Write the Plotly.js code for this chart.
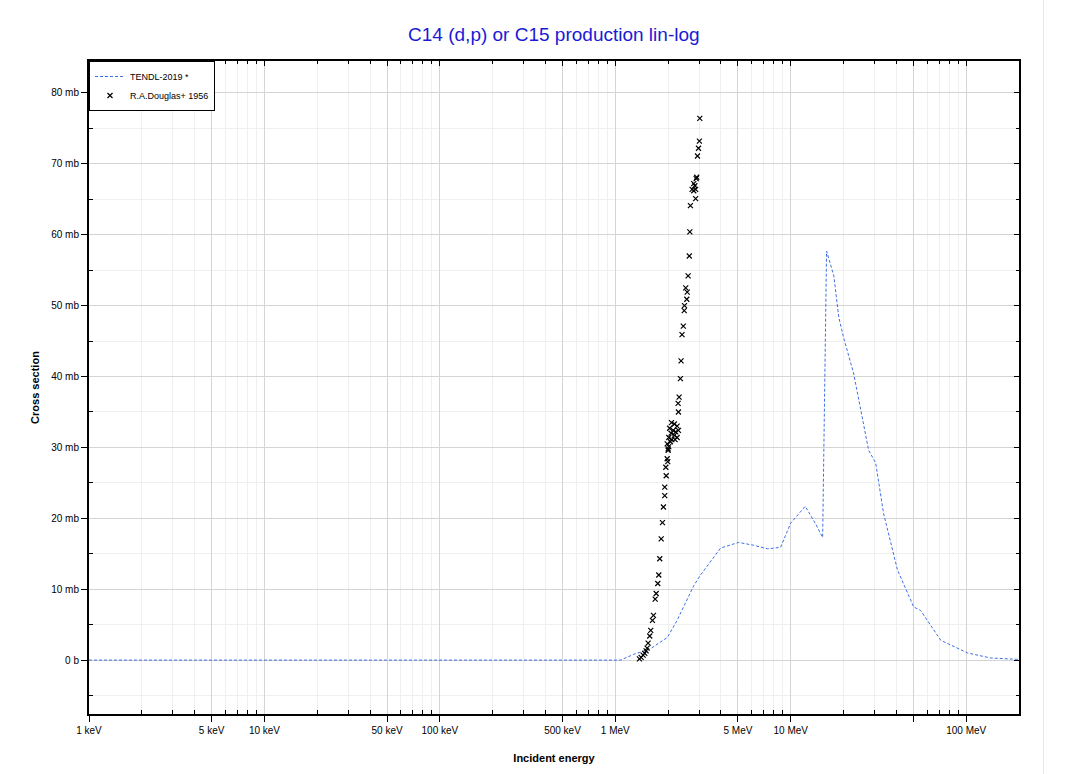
<!DOCTYPE html>
<html>
<head>
<meta charset="utf-8">
<script src="https://cdn.plot.ly/plotly-3.0.1.min.js"></script>
<style>
  html, body { margin: 0; padding: 0; background: #ffffff; }
  #chart { width: 1043px; height: 774px; border-right: 1px solid #e8e8e8; }
</style>
</head>
<body>
<div id="chart"></div>
<script>
// TENDL-2019 evaluated curve: incident energy (MeV), cross section (mb)
const tendlEnergyMeV = [0.001, 0.01, 0.1, 0.5, 1.0, 1.07, 1.27, 1.585, 1.98, 2.25, 2.8, 3.06, 3.98, 5.04, 6.14, 7.38, 8.75, 9.98, 12.1, 13.8, 15.2, 16.0, 17.6, 18.8, 20.0, 22.8, 27.8, 30.5, 33.8, 40.6, 50.2, 55.0, 71.6, 102, 138, 200];
const tendlXsMb      = [0, 0, 0, 0, 0, 0, 0.8, 1.6, 3.2, 5.6, 10.5, 12.0, 15.8, 16.6, 16.2, 15.7, 15.9, 19.3, 21.7, 19.3, 17.3, 57.7, 54.2, 48.3, 45.5, 40.5, 29.6, 27.8, 20.7, 12.7, 7.5, 7.0, 2.8, 1.0, 0.3, 0.1];

// R.A.Douglas+ 1956 measured points: incident energy (MeV), cross section (mb)
const douglasEnergyMeV = [1.372, 1.403, 1.44, 1.471, 1.498, 1.518, 1.538, 1.571, 1.592, 1.628, 1.65, 1.687, 1.71, 1.746, 1.769, 1.792, 1.826, 1.857, 1.88, 1.913, 1.913, 1.95, 1.94, 1.99, 1.975, 2.001, 2.017,
  1.975, 2.0, 2.06, 2.10, 2.19, 2.017, 2.25, 2.17, 2.08, 2.29, 2.21, 2.14, 2.04, 2.25, 2.17, 2.09,
  2.28, 2.29, 2.31, 2.35, 2.37, 2.40, 2.44, 2.47, 2.48, 2.555, 2.57, 2.52, 2.60, 2.64, 2.66, 2.68, 2.87, 2.80, 2.87, 2.74, 2.84, 2.80, 2.89, 2.91, 2.94, 2.98, 3.015, 3.03];
const douglasXsMb = [0.18, 0.38, 0.7, 0.94, 1.3, 1.7, 2.4, 3.4, 4.2, 5.6, 6.3, 8.6, 9.4, 10.8, 12.0, 14.3, 17.1, 19.4, 21.6, 23.2, 24.4, 26.0, 27.2, 28.0, 28.4, 29.6, 30.1,
  30.5, 29.8, 30.8, 31.1, 31.1, 31.4, 31.4, 31.7, 32.0, 32.4, 32.2, 32.4, 32.7, 33.0, 33.3, 33.5,
  36.2, 35.0, 37.1, 39.7, 42.2, 45.9, 47.1, 49.3, 50.0, 50.9, 51.9, 52.5, 54.2, 57.0, 60.4, 64.1, 65.1, 66.2, 66.4, 66.4, 66.9, 67.2, 67.9, 68.1, 71.1, 72.2, 73.2, 76.4];

// Axis ticks
const xMajorTicksEV  = [1e3, 5e3, 1e4, 5e4, 1e5, 5e5, 1e6, 5e6, 1e7, 5e7, 1e8];
const xMajorLabels   = ['1 keV', '5 keV', '10 keV', '50 keV', '100 keV', '500 keV', '1 MeV', '5 MeV', '10 MeV', '', '100 MeV'];
const xMinorDigits   = [2, 3, 4, 6, 7, 8, 9];
const xDecadesEV     = [1e3, 1e4, 1e5, 1e6, 1e7, 1e8];
const yMajorTicksMb  = [0, 10, 20, 30, 40, 50, 60, 70, 80];
const yMajorLabels   = ['0 b', '10 mb', '20 mb', '30 mb', '40 mb', '50 mb', '60 mb', '70 mb', '80 mb'];
const yMinorTicksMb  = [-5, 5, 15, 25, 35, 45, 55, 65, 75];

const xMinorTicksEV = [];
xDecadesEV.forEach(d => xMinorDigits.forEach(k => { if (d * k <= 2e8) xMinorTicksEV.push(d * k); }));
xMinorTicksEV.push(2e8);

const toEV = a => a.map(v => v * 1e6);

const xRange = [3, Math.log10(2e8)];
const yRange = [-7.6, 84.5];
const fontFam = '"Liberation Sans", Arial, sans-serif';

const traces = [
  {
    x: toEV(tendlEnergyMeV), y: tendlXsMb,
    type: 'scatter', mode: 'lines', name: 'TENDL-2019 *',
    line: { color: '#3f6fe6', width: 1, dash: '3px,2px' },
    hoverinfo: 'x+y'
  },
  {
    x: toEV(douglasEnergyMeV), y: douglasXsMb,
    type: 'scatter', mode: 'markers', name: 'R.A.Douglas+ 1956',
    marker: { symbol: 'x-thin', size: 5, color: '#000000', line: { color: '#000000', width: 1.2 } },
    hoverinfo: 'x+y'
  },
  {
    x: [1e3], y: [0], xaxis: 'x2', yaxis: 'y2',
    type: 'scatter', mode: 'markers', marker: { opacity: 0 },
    showlegend: false, hoverinfo: 'skip'
  }
];

const layout = {
  width: 1043, height: 774,
  margin: { l: 89, r: 24, t: 61, b: 60 },
  paper_bgcolor: '#ffffff', plot_bgcolor: '#ffffff',
  font: { family: fontFam, size: 10, color: '#000000' },
  title: {
    text: 'C14 (d,p) or C15 production lin-log',
    font: { family: fontFam, size: 19, color: '#1a1ad6' },
    x: 0.531, xanchor: 'center', y: 0.955, yanchor: 'middle'
  },
  showlegend: true,
  legend: {
    x: 0.0, xanchor: 'left', y: 1.0, yanchor: 'top',
    bgcolor: '#ffffff', bordercolor: '#000000', borderwidth: 1,
    font: { family: fontFam, size: 9, color: '#000000' },
    tracegroupgap: 0, itemwidth: 30
  },
  xaxis: {
    type: 'log', range: xRange, autorange: false,
    tickmode: 'array', tickvals: xMajorTicksEV, ticktext: xMajorLabels,
    ticks: 'outside', ticklen: 6, tickwidth: 1, tickcolor: '#000000',
    showgrid: true, gridcolor: '#d4d4d4', gridwidth: 1,
    showline: true, linecolor: '#000000', linewidth: 2, mirror: true,
    zeroline: false,
    tickfont: { family: fontFam, size: 10, color: '#000000' },
    minor: { tickmode: 'array', tickvals: xMinorTicksEV, ticks: 'inside', ticklen: 4, tickcolor: '#000000', showgrid: true, gridcolor: '#efefef', gridwidth: 1 },
    title: { text: '<b>Incident energy</b>', font: { family: fontFam, size: 11, color: '#000000' }, standoff: 19 }
  },
  yaxis: {
    range: yRange, autorange: false,
    tickmode: 'array', tickvals: yMajorTicksMb, ticktext: yMajorLabels,
    ticks: 'outside', ticklen: 6, tickwidth: 1, tickcolor: '#000000',
    showgrid: true, gridcolor: '#d4d4d4', gridwidth: 1,
    showline: true, linecolor: '#000000', linewidth: 2, mirror: true,
    zeroline: false,
    tickfont: { family: fontFam, size: 10, color: '#000000' },
    minor: { tickmode: 'array', tickvals: yMinorTicksMb, ticks: 'inside', ticklen: 4, tickcolor: '#000000', showgrid: true, gridcolor: '#efefef', gridwidth: 1 },
    title: { text: '<b>Cross section</b>', font: { family: fontFam, size: 11, color: '#000000' }, standoff: 9 }
  },
  xaxis2: {
    type: 'log', range: xRange, autorange: false, overlaying: 'x', side: 'top', anchor: 'y2',
    tickmode: 'array', tickvals: xMajorTicksEV, ticks: 'inside', ticklen: 5, tickcolor: '#000000',
    showticklabels: false, showgrid: false, zeroline: false, showline: false,
    minor: { tickmode: 'array', tickvals: xMinorTicksEV, ticks: 'inside', ticklen: 3, tickcolor: '#000000', showgrid: false }
  },
  yaxis2: {
    range: yRange, autorange: false, overlaying: 'y', side: 'right', anchor: 'x2',
    tickmode: 'array', tickvals: yMajorTicksMb, ticks: 'inside', ticklen: 5, tickcolor: '#000000',
    showticklabels: false, showgrid: false, zeroline: false, showline: false,
    minor: { tickmode: 'array', tickvals: yMinorTicksMb, ticks: 'inside', ticklen: 3, tickcolor: '#000000', showgrid: false }
  }
};

Plotly.newPlot('chart', traces, layout, { displayModeBar: false, staticPlot: false, responsive: false });
</script>
</body>
</html>
